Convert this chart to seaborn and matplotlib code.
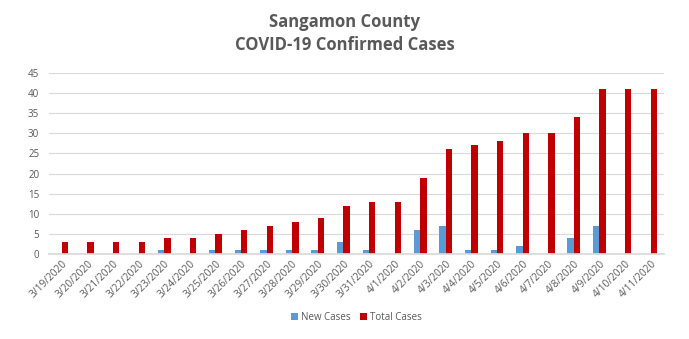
import matplotlib
matplotlib.use("Agg")
import matplotlib.pyplot as plt
import seaborn as sns
import pandas as pd
import numpy as np

dates = ["3/19/2020", "3/20/2020", "3/21/2020", "3/22/2020", "3/23/2020", "3/24/2020",
         "3/25/2020", "3/26/2020", "3/27/2020", "3/28/2020", "3/29/2020", "3/30/2020",
         "3/31/2020", "4/1/2020", "4/2/2020", "4/3/2020", "4/4/2020", "4/5/2020",
         "4/6/2020", "4/7/2020", "4/8/2020", "4/9/2020", "4/10/2020", "4/11/2020"]
new_cases = [0, 0, 0, 0, 1, 0, 1, 1, 1, 1, 1, 3, 1, 0, 6, 7, 1, 1, 2, 0, 4, 7, 0, 0]
total_cases = [3, 3, 3, 3, 4, 4, 5, 6, 7, 8, 9, 12, 13, 13, 19, 26, 27, 28, 30, 30, 34, 41, 41, 41]
series_names = ["New Cases", "Total Cases"]
colors = ["#5B9BD5", "#C00000"]

df = pd.concat([
    pd.DataFrame({"date": dates, "value": new_cases, "series": series_names[0]}),
    pd.DataFrame({"date": dates, "value": total_cases, "series": series_names[1]}),
])

sns.set_theme(style="white")
plt.rcParams['font.family'] = ['Open Sans', 'DejaVu Sans']

fig = plt.figure(figsize=(6.89, 3.39), dpi=100)
ax = fig.add_axes([0.071, 0.25, 0.892, 0.535])

sns.barplot(data=df, x="date", y="value", hue="series", order=dates,
            hue_order=series_names, palette=colors, width=0.5, ax=ax,
            saturation=1, legend=True, linewidth=0)

ax.set_ylim(0, 45)
ax.set_yticks(range(0, 46, 5))
ax.set_xlim(-0.5, len(dates) - 0.5)
ax.yaxis.grid(True, color="#D9D9D9", linewidth=0.8)
ax.set_axisbelow(True)
for s in ["left", "right", "top"]:
    ax.spines[s].set_visible(False)
ax.spines["bottom"].set_color("#D9D9D9")
ax.set_xlabel("")
ax.set_ylabel("")

ax.tick_params(axis="y", labelsize=7, colors="#595959", length=0, pad=7)
ax.tick_params(axis="x", which="major", length=0, labelsize=7.3, colors="#595959", pad=3)
ax.set_xticks(np.arange(-0.5, len(dates), 1), minor=True)
ax.tick_params(axis="x", which="minor", length=4, color="#D9D9D9", width=0.8)
plt.setp(ax.get_xticklabels(), rotation=45, ha="right", rotation_mode="anchor")

leg = ax.legend(loc="center", bbox_to_anchor=(0.5, -0.35), ncol=2, frameon=False,
                fontsize=7, handlelength=0.7, handleheight=0.7, handletextpad=0.3,
                columnspacing=1.0)
for t in leg.get_texts():
    t.set_color("#595959")

fig.text(0.5, 0.9, "Sangamon County\nCOVID-19 Confirmed Cases", ha="center", va="center",
         fontsize=12, fontweight="bold", color="#595959", linespacing=1.35)

fig.savefig("out.png", dpi=100)
